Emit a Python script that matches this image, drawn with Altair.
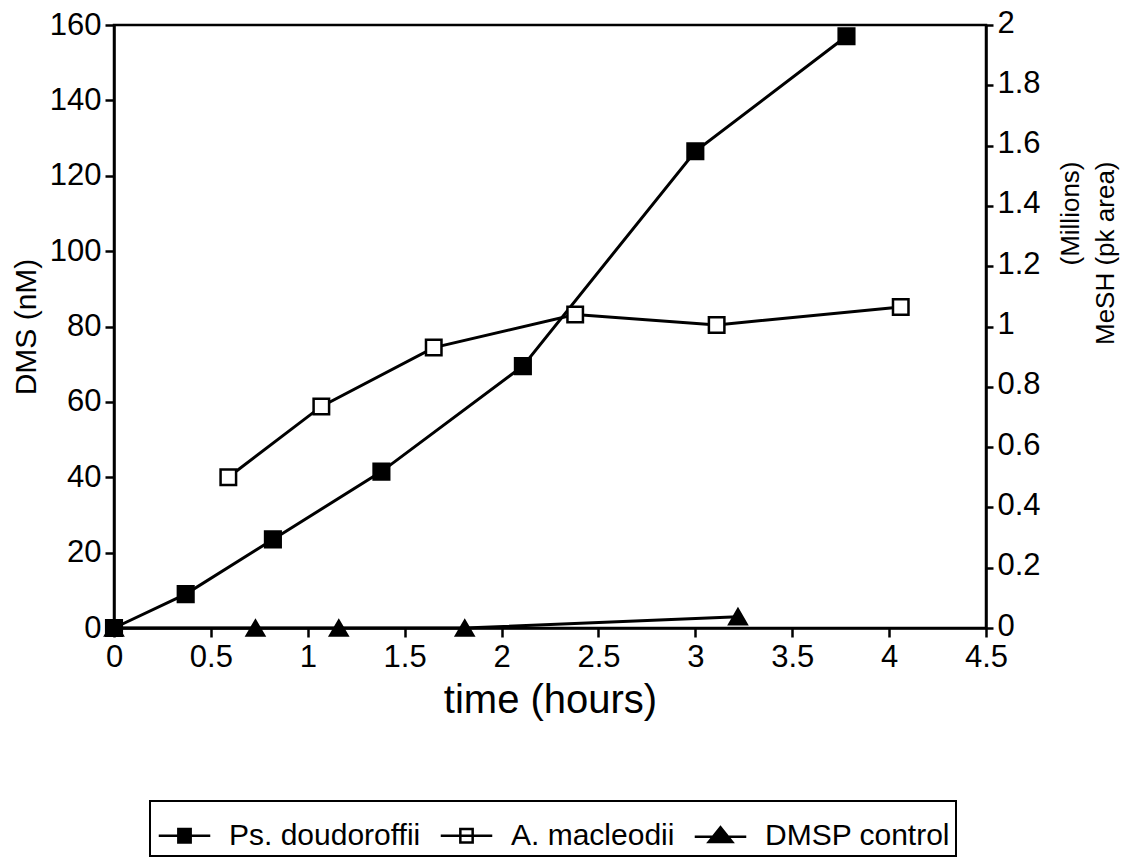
import altair as alt
import pandas as pd

# ---- data ----
ps_time = [0, 0.37, 0.82, 1.38, 2.11, 3.0, 3.78]
ps_dms = [0, 9, 23.5, 41.5, 69.5, 126.5, 157]

am_time = [0.59, 1.07, 1.65, 2.38, 3.11, 4.06]
am_mesh = [0.50, 0.735, 0.93, 1.04, 1.005, 1.065]

dc_time = [0, 0.73, 1.16, 1.81, 3.22]
dc_dms = [0, 0, 0, 0, 3]

series = ["Ps. doudoroffii", "A. macleodii", "DMSP control"]
x_ticks = [0, 0.5, 1, 1.5, 2, 2.5, 3, 3.5, 4, 4.5]
left_ticks = [0, 20, 40, 60, 80, 100, 120, 140, 160]
right_ticks = [0, 0.2, 0.4, 0.6, 0.8, 1, 1.2, 1.4, 1.6, 1.8, 2]

FONT = "Liberation Sans"

ps_df = pd.DataFrame({"t": ps_time, "v": ps_dms})
am_df = pd.DataFrame({"t": am_time, "m": am_mesh})
dc_df = pd.DataFrame({"t": dc_time, "v": dc_dms})
leg_df = pd.DataFrame({"series": series, "t": [0, 0, 0], "v": [0, 0, 0]})

x_enc = alt.X(
    "t:Q",
    scale=alt.Scale(domain=[0, 4.5], nice=False, zero=False),
    axis=alt.Axis(values=x_ticks, format="~g", title="time (hours)",
                  titleFontSize=40, titlePadding=8, labelFontSize=31,
                  labelPadding=5, tickSize=9, labelFlush=False,
                  labelOverlap=False),
)
yl = alt.Y(
    "v:Q",
    scale=alt.Scale(domain=[0, 160], nice=False),
    axis=alt.Axis(values=left_ticks, title="DMS (nM)", orient="left",
                  titleFontSize=30, titlePadding=8, labelFontSize=31,
                  labelPadding=4, tickSize=9, labelFlush=False,
                  labelOverlap=False),
)
yr = alt.Y(
    "m:Q",
    scale=alt.Scale(domain=[0, 2], nice=False),
    axis=alt.Axis(values=right_ticks, format="~g", orient="right",
                  title=["(Millions)", "MeSH (pk area)"], titleAngle=270,
                  titleFontSize=26, titleLineHeight=35, titleX=84, titleY=136,
                  titleAlign="right", titleBaseline="middle",
                  labelFontSize=31, labelPadding=4, tickSize=7,
                  labelOffset=-2, labelFlush=False, labelOverlap=False),
)

LW = 3

ps_line = alt.Chart(ps_df).mark_line(color="black", strokeWidth=LW).encode(x=x_enc, y=yl)
ps_pts = alt.Chart(ps_df).mark_point(shape="square", filled=True, fill="black",
                                     stroke="black", size=260, opacity=1).encode(x=x_enc, y=yl)
dc_line = alt.Chart(dc_df).mark_line(color="black", strokeWidth=LW).encode(x=x_enc, y=yl)
dc_pts = alt.Chart(dc_df).mark_point(shape="triangle-up", filled=True, fill="black",
                                     stroke="black", size=330, opacity=1).encode(x=x_enc, y=yl)

legend = alt.Legend(
    orient="none", legendX=36, legendY=776, direction="horizontal", title=None,
    symbolSize=3136, symbolStrokeWidth=2.5, symbolStrokeColor="black",
    symbolOpacity=1, labelFontSize=30, labelFont=FONT, labelColor="black",
    labelOffset=15, columnPadding=14, padding=5, strokeColor="black",
    labelLimit=400,
)
paths = [
    "M-0.92,0H0.92M-0.22,-0.24H0.22V0.24H-0.22Z",
    "M-0.92,0H0.92M-0.22,-0.24H0.22V0.24H-0.22Z",
    "M-0.92,0.04H0.92M0,-0.3L0.42,0.22H-0.42Z",
]
leg_layer = alt.Chart(leg_df).transform_filter("datum.t < 0").mark_point(
    filled=True, opacity=1
).encode(
    x=x_enc, y=yl,
    shape=alt.Shape("series:N", scale=alt.Scale(domain=series, range=paths), legend=legend),
    fill=alt.Fill("series:N", scale=alt.Scale(domain=series, range=["black", "white", "black"]), legend=legend),
    stroke=alt.Stroke("series:N", scale=alt.Scale(domain=series, range=["black", "black", "black"]), legend=legend),
)

am_line = alt.Chart(am_df).mark_line(color="black", strokeWidth=LW).encode(x=x_enc, y=yr)
am_pts = alt.Chart(am_df).mark_point(shape="square", filled=True, fill="white",
                                     stroke="black", strokeWidth=2.5, size=240,
                                     opacity=1).encode(x=x_enc, y=yr)

left = alt.layer(ps_line, dc_line, dc_pts, ps_pts, leg_layer)
right = alt.layer(am_line, am_pts)

chart = alt.layer(left, right).resolve_scale(y="independent").properties(
    width=872, height=603,
    padding={"left": 114, "top": 25, "right": 141, "bottom": 230},
    autosize=alt.AutoSizeParams(type="none"),
    background="white",
).configure_axis(
    grid=False, domainColor="black", domainWidth=2.5, tickColor="black",
    tickWidth=2.5, labelColor="black", titleColor="black", labelFont=FONT,
    titleFont=FONT, titleFontWeight="normal",
).configure_view(stroke="black", strokeWidth=2.5).configure_legend(strokeWidth=2)

chart.save("out.html", embed_options={"renderer": "svg", "actions": False})
